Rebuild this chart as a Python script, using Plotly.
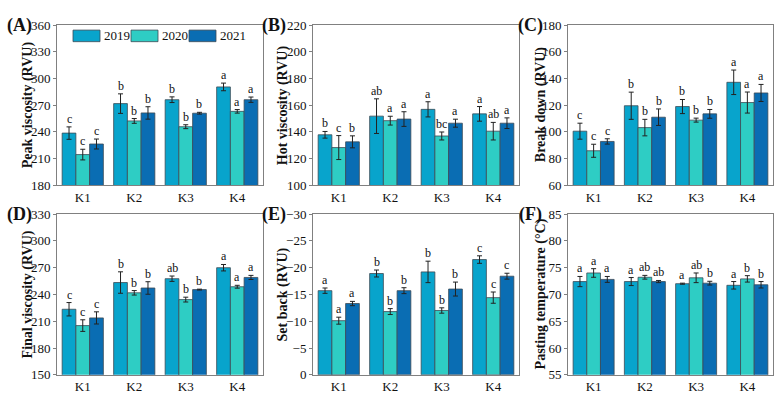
import plotly.graph_objects as go

W, H = 781, 404
categories = ["K1", "K2", "K3", "K4"]
years = ["2019", "2020", "2021"]
colors = ["#08A4CC", "#2ECDC4", "#0A6DB3"]

# ---- data (value, error, letters) per panel, per year ----
peak_vals = [[238.6, 271.8, 276.2, 290.6], [214.4, 252.3, 245.8, 263.1], [226.3, 261.3, 261.0, 276.2]]
peak_err = [[7.0, 11.0, 3.2, 4.3], [6.0, 2.7, 2.2, 2.0], [5.6, 7.0, 1.0, 3.0]]
peak_let = [["c", "b", "b", "a"], ["c", "b", "b", "a"], ["c", "b", "b", "a"]]

hot_vals = [[137.8, 151.8, 156.9, 153.5], [128.2, 148.4, 136.9, 140.5], [132.5, 149.6, 146.5, 146.5]]
hot_err = [[2.5, 13.0, 5.7, 5.5], [9.0, 3.3, 3.0, 6.6], [4.5, 5.5, 3.0, 4.0]]
hot_let = [["b", "ab", "a", "a"], ["c", "a", "bc", "ab"], ["b", "a", "a", "a"]]

brk_vals = [[100.5, 119.6, 119.0, 137.2], [85.8, 103.2, 108.8, 122.0], [92.8, 111.0, 113.5, 129.2]]
brk_err = [[6.0, 10.2, 5.3, 9.2], [4.9, 6.2, 1.5, 7.9], [2.0, 6.2, 3.3, 6.4]]
brk_let = [["c", "b", "b", "a"], ["c", "b", "b", "a"], ["c", "b", "b", "a"]]

fin_vals = [[223.4, 253.3, 257.6, 269.9], [205.1, 241.8, 234.2, 248.6], [213.7, 247.2, 245.4, 259.0]]
fin_err = [[7.5, 12.0, 3.0, 3.6], [6.5, 2.5, 2.7, 1.6], [6.8, 7.0, 0.5, 2.3]]
fin_let = [["c", "b", "ab", "a"], ["c", "b", "b", "a"], ["c", "b", "b", "a"]]

set_vals = [[-15.7, -18.9, -19.2, -21.5], [-10.1, -11.8, -12.0, -14.4], [-13.3, -15.7, -16.0, -18.4]]
set_err = [[0.5, 0.65, 2.0, 0.7], [0.65, 0.55, 0.5, 1.05], [0.4, 0.55, 1.3, 0.55]]
set_let = [["a", "b", "b", "c"], ["a", "b", "b", "c"], ["a", "b", "b", "c"]]

pt_vals = [[72.4, 72.4, 72.0, 71.7], [74.0, 73.2, 73.1, 72.9], [72.8, 72.4, 72.1, 71.8]]
pt_err = [[0.95, 0.75, 0.1, 0.7], [0.8, 0.35, 0.9, 0.6], [0.55, 0.2, 0.35, 0.6]]
pt_let = [["a", "a", "a", "a"], ["a", "ab", "ab", "b"], ["a", "ab", "b", "b"]]

panels = [
    dict(tag="(A)", title="Peak viscosity (RVU)", rng=[180, 360], dt=30, v=peak_vals, e=peak_err, l=peak_let),
    dict(tag="(B)", title="Hot viscosity (RVU)", rng=[100, 220], dt=20, v=hot_vals, e=hot_err, l=hot_let),
    dict(tag="(C)", title="Break down (RVU)", rng=[60, 180], dt=20, v=brk_vals, e=brk_err, l=brk_let),
    dict(tag="(D)", title="Final viscosity (RVU)", rng=[150, 330], dt=30, v=fin_vals, e=fin_err, l=fin_let),
    dict(tag="(E)", title="Set back (RVU)", rng=[0, -30], dt=5, v=set_vals, e=set_err, l=set_let),
    dict(tag="(F)", title="Pasting temperature (°C)", rng=[55, 85], dt=5, v=pt_vals, e=pt_err, l=pt_let),
]

col_px = [(57, 263), (313, 519), (568, 773)]
row_px = [(19, 185), (215, 382)]
tag_x = [19, 274, 530]
title_x = [28, 283, 541]

def px(p):
    return p / W

def py(p):
    return 1 - p / H

FONT = "Liberation Serif"
fig = go.Figure()
layout = dict(
    width=W, height=H, margin=dict(l=0, r=0, t=0, b=0),
    paper_bgcolor="white", plot_bgcolor="white",
    barmode="group", bargap=0.2, bargroupgap=0,
    showlegend=False, font=dict(family=FONT, size=13, color="#111"),
)
annotations = []
shapes = []
xs = list(range(len(categories)))
bw = 0.8 / 3

for i, p in enumerate(panels):
    r, c = divmod(i, 3)
    sfx = "" if i == 0 else str(i + 1)
    x0, x1 = col_px[c]
    y0, y1 = row_px[r]
    for j, yr in enumerate(years):
        fig.add_trace(go.Bar(
            x=xs, y=p["v"][j], name=yr, offsetgroup=str(j),
            marker=dict(color=colors[j], line=dict(color="#3c4a55", width=0.8)),
            error_y=dict(type="data", array=p["e"][j], color="#222", thickness=1, width=2.5),
            xaxis="x" + sfx, yaxis="y" + sfx,
        ))
        for k in xs:
            v = p["v"][j][k]
            e = p["e"][j][k]
            top = v - e if v < 0 else v + e
            annotations.append(dict(
                x=k + (j - 1) * bw, y=top, xref="x" + sfx, yref="y" + sfx,
                text=p["l"][j][k], showarrow=False, xanchor="center", yanchor="bottom", yshift=-1,
                font=dict(family=FONT, size=12, color="#111"),
            ))
    lo, hi = p["rng"]
    step = p["dt"] if hi > lo else -p["dt"]
    tv = []
    t = lo
    while (t <= hi if hi > lo else t >= hi):
        tv.append(t)
        t += step
    layout["xaxis" + sfx] = dict(
        domain=[px(x0), px(x1)], anchor="y" + sfx, range=[-0.5, 3.5],
        tickvals=xs, ticktext=categories, ticks="", showline=True, mirror=True,
        linecolor="#808080", linewidth=1, showgrid=False, zeroline=False,
        tickfont=dict(family=FONT, size=13, color="#111"),
    )
    layout["yaxis" + sfx] = dict(
        domain=[py(y1), py(y0)], anchor="x" + sfx, range=[lo, hi],
        tickvals=tv, ticks="outside", ticklen=3, tickcolor="#808080",
        showline=True, mirror=True, linecolor="#808080", linewidth=1,
        showgrid=False, zeroline=False,
        tickfont=dict(family=FONT, size=13, color="#111"),
    )
    annotations.append(dict(
        x=px(title_x[c]), y=py((y0 + y1) / 2), xref="paper", yref="paper",
        text="<b>" + p["title"] + "</b>", textangle=-90, showarrow=False,
        xanchor="center", yanchor="middle",
        font=dict(family=FONT, size=14, color="#111"),
    ))
    annotations.append(dict(
        x=px(tag_x[c]), y=py(y0), xref="paper", yref="paper",
        text="<b>" + p["tag"] + "</b>", showarrow=False,
        xanchor="center", yanchor="middle",
        font=dict(family=FONT, size=18, color="#111"),
    ))

# legend drawn inside panel A
leg_patch_x = [73, 131, 189]
for j, yr in enumerate(years):
    lx = leg_patch_x[j]
    shapes.append(dict(type="rect", xref="paper", yref="paper",
                       x0=px(lx), x1=px(lx + 27), y0=py(36), y1=py(24),
                       fillcolor=colors[j], line=dict(color="#3c4a55", width=0.8)))
    annotations.append(dict(x=px(lx + 29), y=py(30), xref="paper", yref="paper",
                            text=yr, showarrow=False, xanchor="left", yanchor="middle",
                            font=dict(family=FONT, size=13, color="#111")))

layout["annotations"] = annotations
layout["shapes"] = shapes
fig.update_layout(**layout)
fig.write_html("out.html")
